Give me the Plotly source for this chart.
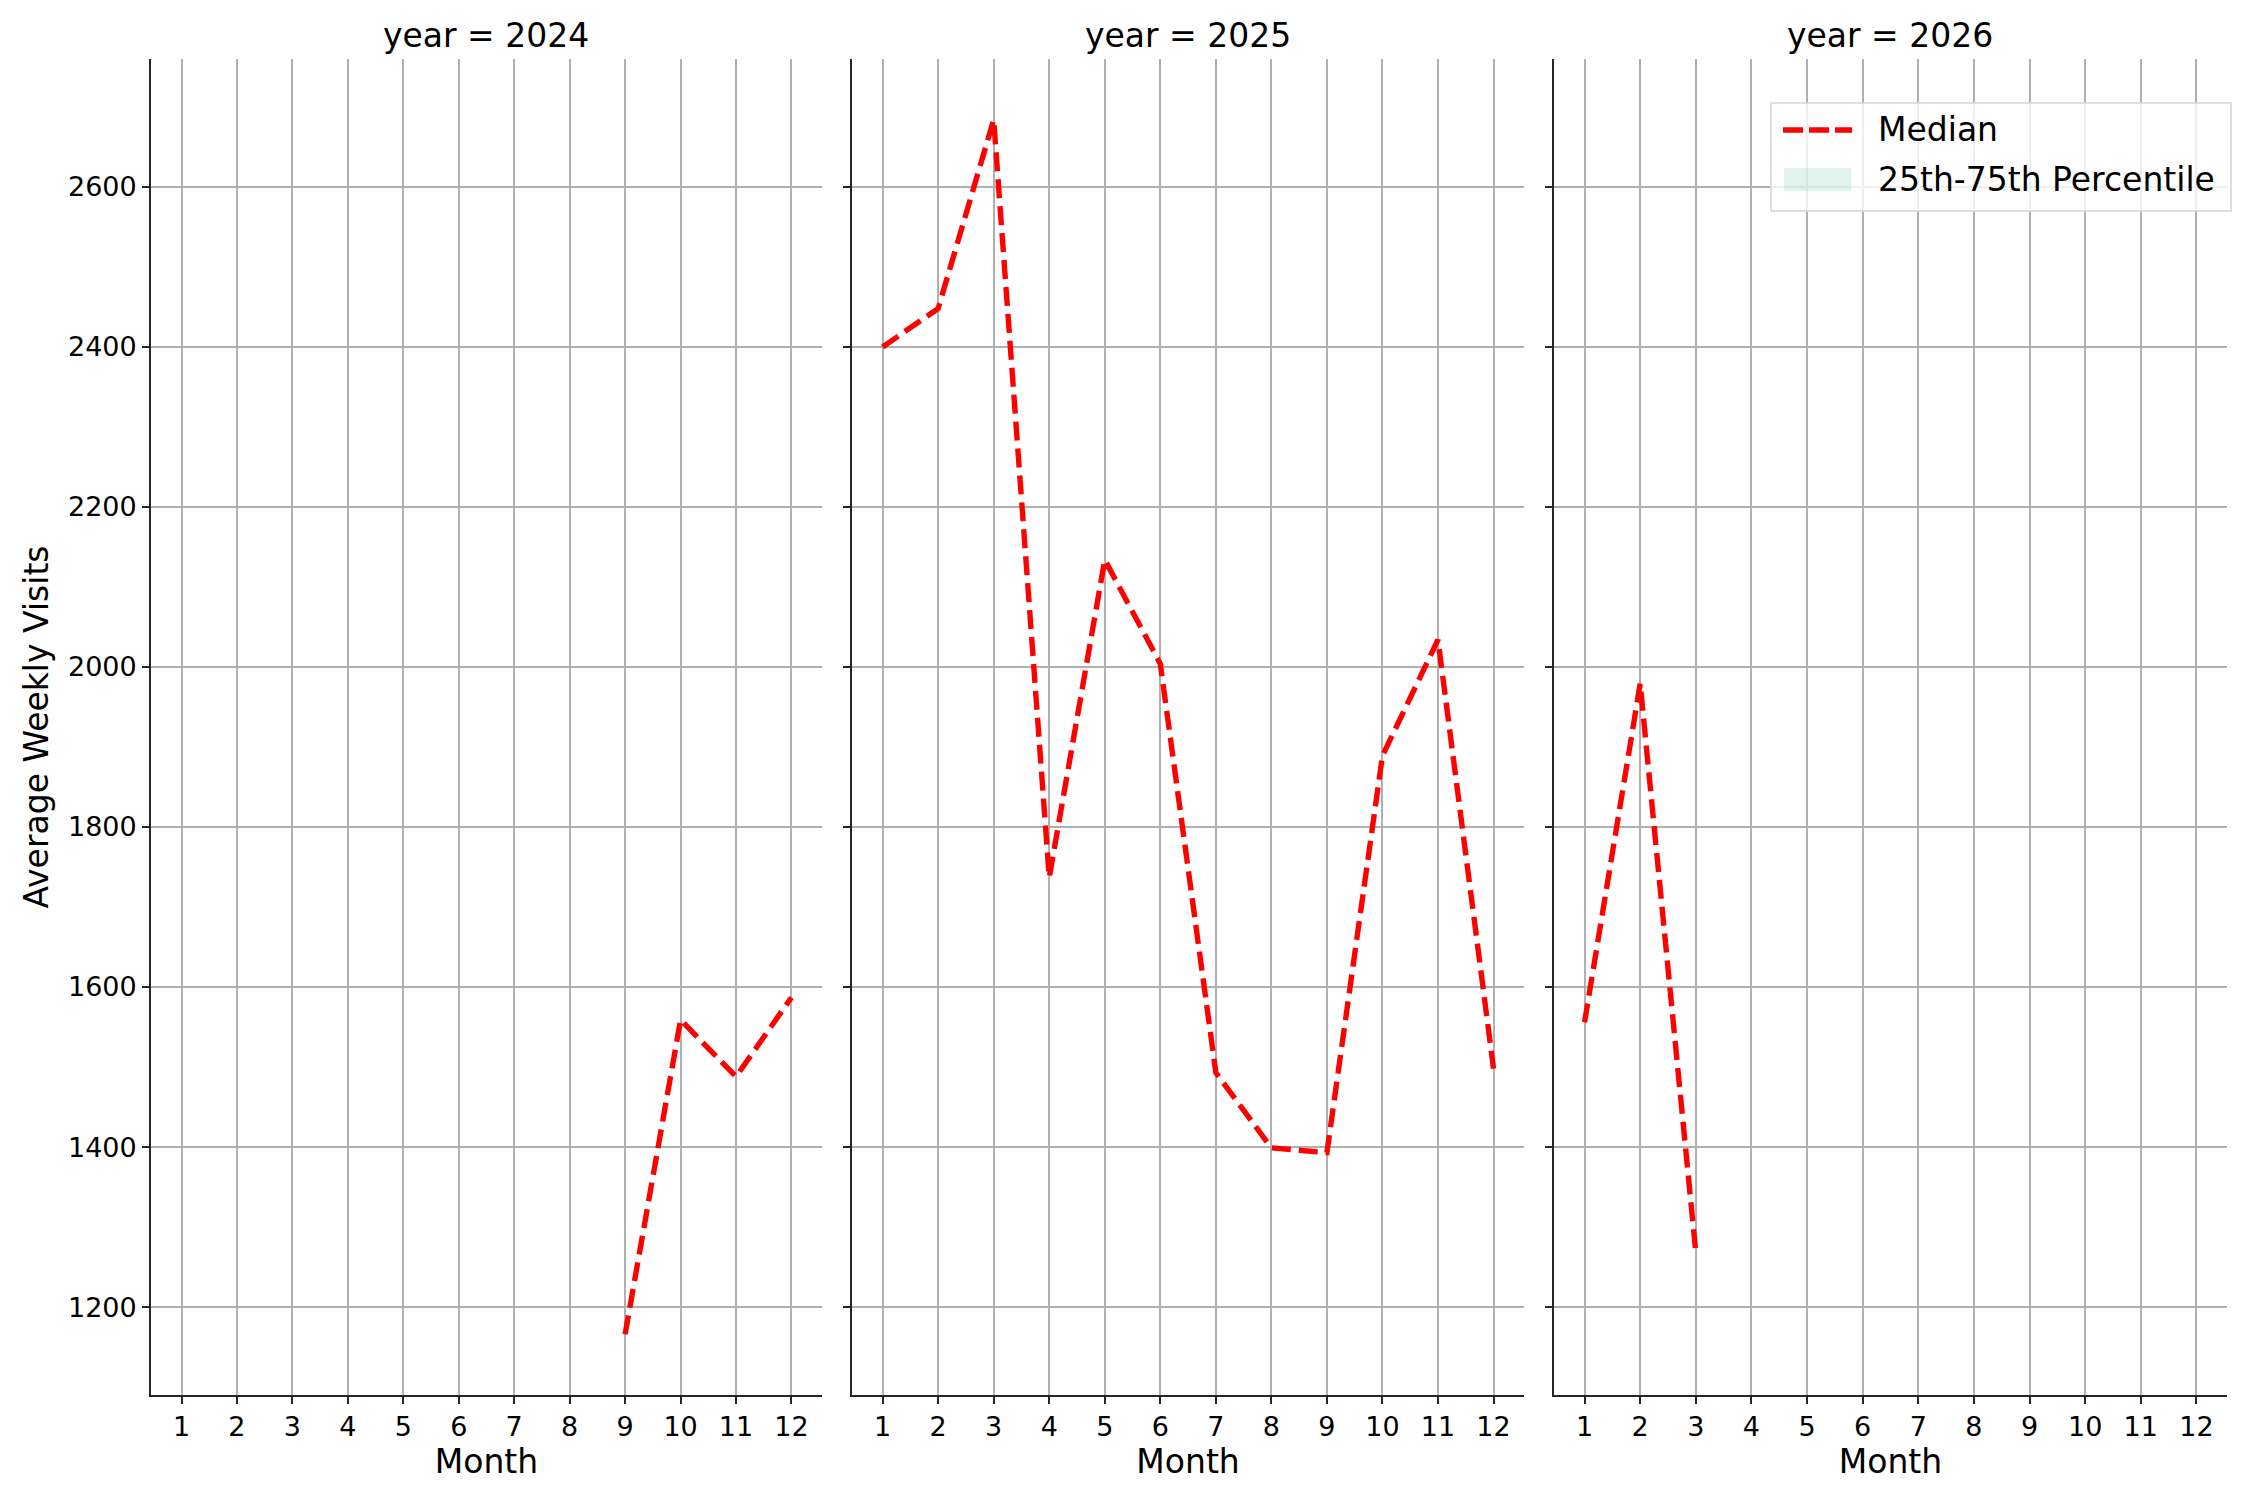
import plotly.graph_objects as go
from plotly.subplots import make_subplots

# monthly median of average weekly visits, one list per facet year
YEARS = [2024, 2025, 2026]
MONTHS_2024 = [9, 10, 11, 12]
MEDIAN_2024 = [1166, 1559, 1488, 1587]
MONTHS_2025 = [1, 2, 3, 4, 5, 6, 7, 8, 9, 10, 11, 12]
MEDIAN_2025 = [2400, 2448, 2684, 1737, 2134, 2004, 1493, 1399, 1393, 1889, 2034, 1498]
MONTHS_2026 = [1, 2, 3]
MEDIAN_2026 = [1556, 1979, 1268]

MONTH_TICKS = list(range(1, 13))
Y_TICKS = [1200, 1400, 1600, 1800, 2000, 2200, 2400, 2600]
LEGEND_LABELS = ["Median", "25th-75th Percentile"]

series = {
    2024: (MONTHS_2024, MEDIAN_2024),
    2025: (MONTHS_2025, MEDIAN_2025),
    2026: (MONTHS_2026, MEDIAN_2026),
}

FONT = "DejaVu Sans"
GRID = "#b0b0b0"
SPINE = "#262626"
RED = "#ff0000"
BAND = "rgba(102,194,165,0.2)"

# the page body adds an 8px offset, so the figure is sized to fit the window
W, H = 2242, 1492
M = dict(l=143, r=23, t=51, b=105)
PW, PH = W - M["l"] - M["r"], H - M["t"] - M["b"]


def px(x, y):
    """figure pixels -> paper coordinates"""
    return (x - M["l"]) / PW, 1 - (y - M["t"]) / PH


fig = make_subplots(rows=1, cols=3, shared_yaxes=True, horizontal_spacing=0.0145)

for i, year in enumerate(YEARS, start=1):
    months, median = series[year]
    fig.add_trace(
        go.Scatter(
            x=months,
            y=median,
            mode="lines",
            name="Median",
            line=dict(color=RED, width=5.4, dash="19px,8px"),
            showlegend=False,
        ),
        row=1,
        col=i,
    )

domains = [[0.0, 0.3232], [0.3377, 0.6614], [0.6758, 1.0]]
all_y = MEDIAN_2024 + MEDIAN_2025 + MEDIAN_2026
pad = (max(all_y) - min(all_y)) * 0.05
y_range = [min(all_y) - pad, max(all_y) + pad]

axis_common = dict(
    showline=True,
    linecolor=SPINE,
    linewidth=1.8,
    ticks="outside",
    ticklen=7,
    tickwidth=1.7,
    tickcolor=SPINE,
    showgrid=True,
    gridcolor=GRID,
    gridwidth=1.6,
    zeroline=False,
    tickfont=dict(family=FONT, size=27, color="black"),
)

for i in range(1, 4):
    fig.update_xaxes(
        axis_common,
        domain=domains[i - 1],
        range=[0.45, 12.55],
        tickvals=MONTH_TICKS,
        title=dict(text="Month", font=dict(family=FONT, size=33, color="black"), standoff=7),
        row=1,
        col=i,
    )
    fig.update_yaxes(axis_common, range=y_range, tickvals=Y_TICKS, row=1, col=i)
    fig.add_annotation(
        x=sum(domains[i - 1]) / 2,
        y=1.0,
        xref="paper",
        yref="paper",
        xanchor="center",
        yanchor="bottom",
        yshift=2,
        showarrow=False,
        text=f"year = {YEARS[i - 1]}",
        font=dict(family=FONT, size=33, color="black"),
    )

fig.update_yaxes(
    title=dict(text="Average Weekly Visits", font=dict(family=FONT, size=33, color="black"), standoff=9),
    row=1,
    col=1,
)

# legend box drawn by hand (matplotlib style: long line sample and a wide patch)
x0, y0 = px(1763, 95)
x1, y1 = px(2223, 203)
fig.add_shape(
    type="rect", xref="paper", yref="paper", x0=x0, y0=y0, x1=x1, y1=y1,
    fillcolor="rgba(255,255,255,0.8)", line=dict(color="#d6d6d6", width=1.6), layer="above",
)
lx0, ly = px(1775, 122)
lx1, _ = px(1844, 122)
fig.add_shape(
    type="line", xref="paper", yref="paper", x0=lx0, y0=ly, x1=lx1, y1=ly,
    line=dict(color=RED, width=5.4, dash="20px,6px"), layer="above",
)
bx0, by0 = px(1776, 160)
bx1, by1 = px(1843, 183)
fig.add_shape(
    type="rect", xref="paper", yref="paper", x0=bx0, y0=by0, x1=bx1, y1=by1,
    fillcolor=BAND, line=dict(width=0), layer="above",
)
for label, yc in zip(LEGEND_LABELS, [122, 171]):
    tx, ty = px(1868, yc)
    fig.add_annotation(
        x=tx, y=ty, xref="paper", yref="paper", xanchor="left", yanchor="middle",
        showarrow=False, text=label, font=dict(family=FONT, size=33, color="black"),
    )

fig.update_layout(
    width=W,
    height=H,
    margin=M,
    paper_bgcolor="white",
    plot_bgcolor="white",
    font=dict(family=FONT, color="black"),
    showlegend=False,
)

fig.write_html("out.html")
